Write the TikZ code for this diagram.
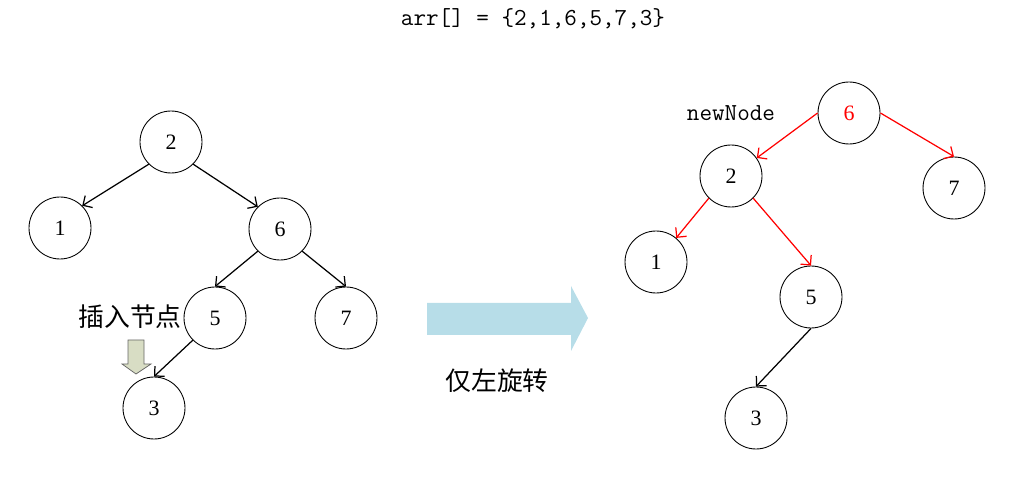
\documentclass[tikz,border=0pt]{standalone}
\usepackage{fontspec}
\setmainfont{Liberation Serif}
\newfontfamily\cjk{Noto Sans CJK SC}
\usetikzlibrary{arrows.meta}

\definecolor{arrowblue}{HTML}{B7DDE8}
\definecolor{arrowgreen}{HTML}{D8DDC4}

\begin{document}
\begin{tikzpicture}[x=0.02cm, y=-0.02cm,
    vertex/.style={draw, circle, minimum size=1.24cm, inner sep=0pt, line width=0.5pt, font=\fontsize{12.5}{14}\selectfont},
    edge/.style={-{Straight Barb[length=4pt, width=8pt]}, line width=0.7pt},
    redge/.style={edge, red},
    label/.style={font=\fontsize{13.9}{16}\selectfont\ttfamily},
    cjklabel/.style={font=\fontsize{14.7}{17}\selectfont\cjk}]
            \useasboundingbox (0,0) rectangle (1023,482);

            % title
            \node[label] (title) at (533,19) {arr[] = \{2,1,6,5,7,3\}};

            % tree before rotation
            \node[vertex] (a2) at (171,142) {2};
            \node[vertex] (a1) at (60,228) {1};
            \node[vertex] (a6) at (280,229) {6};
            \node[vertex] (a5) at (215,318) {5};
            \node[vertex] (a7) at (346,318) {7};
            \node[vertex] (a3) at (154,408) {3};

            \draw[edge] (a2.south west) -- (a1.north east);
            \draw[edge] (a2.south east) -- (a6.north west);
            \draw[edge] (a6.south west) -- (a5.north);
            \draw[edge] (a6.south east) -- (a7.north);
            \draw[edge] (a5.south west) -- (a3.north);

            \node[cjklabel] (insert) at (130,317) {插入节点};
            \draw[fill=arrowgreen, draw=gray!80!black, line width=0.4pt]
                (128,340) -- (144,340) -- (144,364) -- (151,364) -- (136,374)
                -- (122,364) -- (128,364) -- cycle;

            % big arrow
            \fill[arrowblue] (427,303) -- (571,303) -- (571,286) -- (588,318)
                -- (571,351) -- (571,335) -- (427,335) -- cycle;
            \node[cjklabel] (rotate) at (497,381) {仅左旋转};

            % tree after rotation
            \node[vertex, text=red] (b6) at (849,113) {6};
            \node[vertex] (b2) at (731,176) {2};
            \node[vertex] (b7) at (954,188) {7};
            \node[vertex] (b1) at (656,262) {1};
            \node[vertex] (b5) at (811,297) {5};
            \node[vertex] (b3) at (756,418) {3};
            \node[label] (newnode) at (731,113) {newNode};

            \draw[redge] (b6.west) -- (b2.35);
            \draw[redge] (b6.east) -- (b7.north);
            \draw[redge] (b2.south west) -- (b1.50);
            \draw[redge] (b2.south east) -- (b5.north);
            \draw[edge] (b5.south) -- (b3.north);

\end{tikzpicture}
\end{document}
